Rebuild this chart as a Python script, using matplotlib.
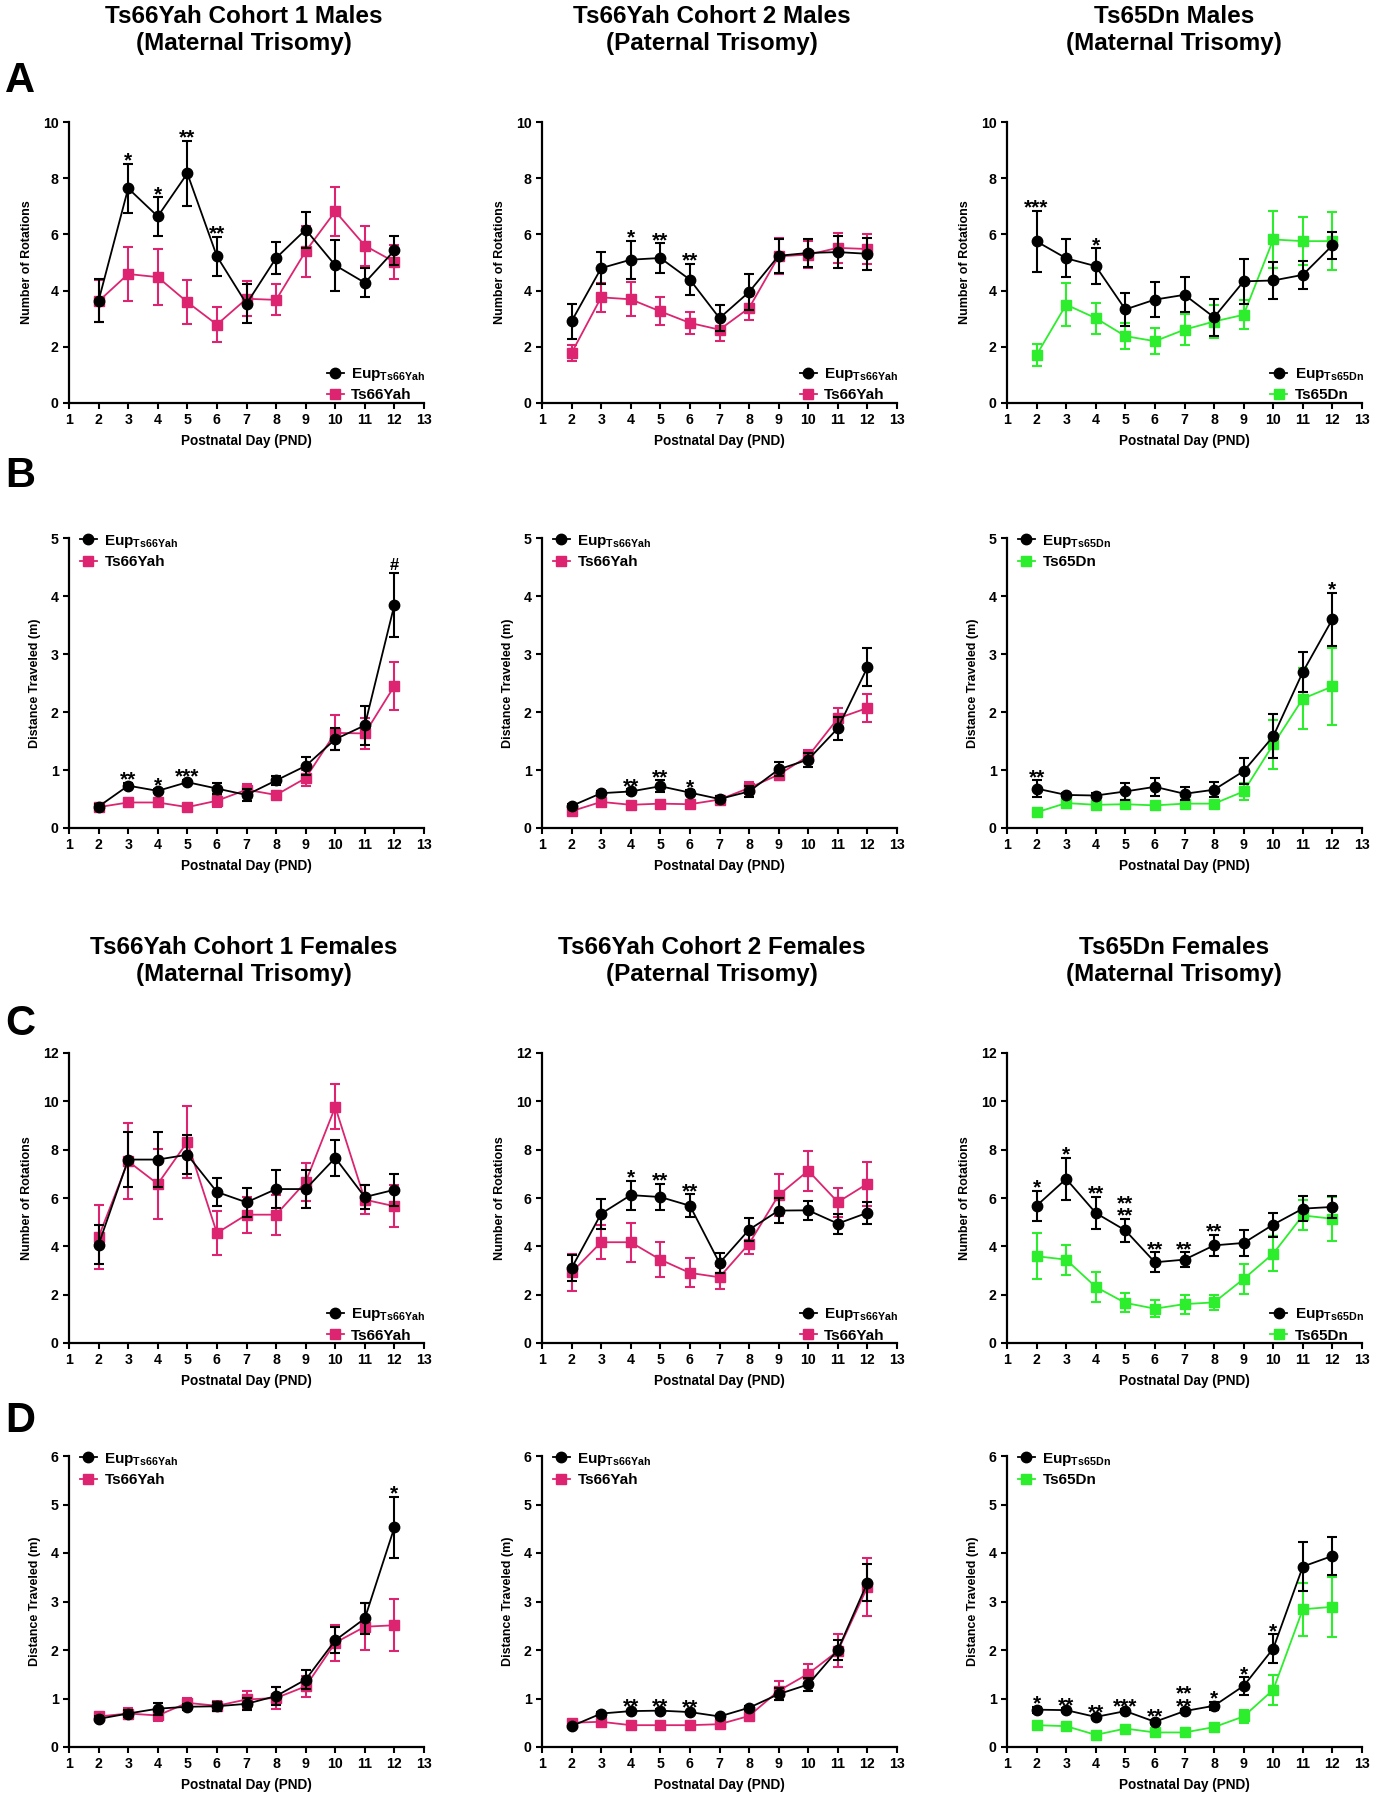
import matplotlib
matplotlib.use('Agg')
import matplotlib.pyplot as plt
from matplotlib.lines import Line2D

PINK = '#DC2470'
GREEN = '#2CEE2C'

plt.rcParams.update({
    'font.family': ['Liberation Sans', 'DejaVu Sans'],
    'font.weight': 'bold',
    'mathtext.fontset': 'custom',
    'mathtext.rm': 'Liberation Sans',
    'mathtext.bf': 'Liberation Sans:bold',
    'axes.linewidth': 1.6,
    'xtick.major.width': 1.5,
    'ytick.major.width': 1.5,
    'xtick.major.size': 4,
    'ytick.major.size': 4,
    'xtick.labelsize': 10.2,
    'ytick.labelsize': 10.2,
})

days = list(range(2, 13))

# ---- Row A: number of rotations, males ----
a1_eup = [3.64, 7.64, 6.64, 8.17, 5.22, 3.53, 5.16, 6.17, 4.90, 4.28, 5.43]
a1_eup_err = [0.76, 0.88, 0.69, 1.17, 0.69, 0.70, 0.57, 0.64, 0.90, 0.52, 0.51]
a1_ts = [3.62, 4.59, 4.48, 3.59, 2.79, 3.71, 3.67, 5.40, 6.82, 5.60, 5.02]
a1_ts_err = [0.75, 0.97, 1.00, 0.78, 0.63, 0.62, 0.55, 0.90, 0.88, 0.71, 0.60]
a1_stars = {3: '*', 4: '*', 5: '**', 6: '**'}

a2_eup = [2.91, 4.80, 5.10, 5.16, 4.39, 3.02, 3.95, 5.24, 5.34, 5.37, 5.31]
a2_eup_err = [0.63, 0.56, 0.67, 0.52, 0.56, 0.45, 0.64, 0.60, 0.50, 0.58, 0.56]
a2_ts = [1.78, 3.76, 3.69, 3.26, 2.85, 2.61, 3.38, 5.22, 5.28, 5.52, 5.48]
a2_ts_err = [0.30, 0.51, 0.60, 0.50, 0.38, 0.40, 0.42, 0.64, 0.49, 0.53, 0.55]
a2_stars = {4: '*', 5: '**', 6: '**'}

a3_eup = [5.75, 5.15, 4.87, 3.33, 3.68, 3.85, 3.05, 4.33, 4.36, 4.56, 5.61]
a3_eup_err = [1.09, 0.67, 0.64, 0.58, 0.61, 0.62, 0.65, 0.80, 0.65, 0.50, 0.48]
a3_ts = [1.71, 3.50, 3.02, 2.38, 2.20, 2.61, 2.90, 3.14, 5.82, 5.76, 5.76]
a3_ts_err = [0.40, 0.76, 0.55, 0.47, 0.47, 0.55, 0.57, 0.51, 1.03, 0.85, 1.03]
a3_stars = {2: '***', 4: '*'}

# ---- Row B: distance traveled, males ----
b1_eup = [0.37, 0.73, 0.64, 0.79, 0.68, 0.57, 0.82, 1.07, 1.53, 1.77, 3.85]
b1_eup_err = [0.04, 0.05, 0.04, 0.04, 0.10, 0.10, 0.08, 0.16, 0.19, 0.34, 0.55]
b1_ts = [0.36, 0.44, 0.44, 0.36, 0.47, 0.66, 0.57, 0.86, 1.64, 1.63, 2.45]
b1_ts_err = [0.03, 0.05, 0.06, 0.03, 0.10, 0.10, 0.07, 0.14, 0.30, 0.27, 0.41]
b1_stars = {3: '**', 4: '*', 5: '***', 12: '#'}

b2_eup = [0.38, 0.60, 0.63, 0.72, 0.61, 0.50, 0.63, 1.01, 1.18, 1.72, 2.77]
b2_eup_err = [0.04, 0.04, 0.04, 0.10, 0.04, 0.05, 0.10, 0.12, 0.12, 0.20, 0.33]
b2_ts = [0.29, 0.45, 0.40, 0.42, 0.41, 0.49, 0.69, 0.92, 1.24, 1.89, 2.07]
b2_ts_err = [0.03, 0.04, 0.03, 0.03, 0.03, 0.04, 0.11, 0.10, 0.10, 0.18, 0.24]
b2_stars = {4: '**', 5: '**', 6: '*'}

b3_eup = [0.68, 0.57, 0.56, 0.63, 0.71, 0.59, 0.66, 0.98, 1.58, 2.69, 3.60]
b3_eup_err = [0.14, 0.04, 0.04, 0.14, 0.16, 0.11, 0.13, 0.23, 0.38, 0.35, 0.46]
b3_ts = [0.27, 0.43, 0.40, 0.41, 0.39, 0.42, 0.42, 0.63, 1.44, 2.23, 2.44]
b3_ts_err = [0.03, 0.04, 0.03, 0.04, 0.03, 0.04, 0.05, 0.15, 0.42, 0.53, 0.66]
b3_stars = {2: '**', 12: '*'}

# ---- Row C: number of rotations, females ----
c1_eup = [4.07, 7.59, 7.59, 7.79, 6.25, 5.82, 6.37, 6.37, 7.66, 6.04, 6.34]
c1_eup_err = [0.80, 1.13, 1.14, 0.80, 0.58, 0.60, 0.80, 0.80, 0.74, 0.48, 0.66]
c1_ts = [4.39, 7.52, 6.58, 8.32, 4.55, 5.31, 5.31, 6.66, 9.77, 5.93, 5.66]
c1_ts_err = [1.31, 1.58, 1.45, 1.50, 0.90, 0.74, 0.83, 0.79, 0.93, 0.60, 0.87]
c1_stars = {}

c2_eup = [3.10, 5.35, 6.12, 6.04, 5.68, 3.31, 4.69, 5.48, 5.49, 4.94, 5.39]
c2_eup_err = [0.55, 0.62, 0.60, 0.55, 0.48, 0.41, 0.48, 0.50, 0.40, 0.41, 0.45]
c2_ts = [2.92, 4.17, 4.17, 3.45, 2.90, 2.72, 4.11, 6.12, 7.13, 5.83, 6.59]
c2_ts_err = [0.78, 0.70, 0.80, 0.71, 0.60, 0.48, 0.44, 0.87, 0.83, 0.60, 0.92]
c2_stars = {4: '*', 5: '**', 6: '**'}

c3_eup = [5.68, 6.79, 5.38, 4.66, 3.34, 3.45, 4.04, 4.14, 4.90, 5.56, 5.63]
c3_eup_err = [0.63, 0.88, 0.68, 0.48, 0.41, 0.30, 0.44, 0.55, 0.50, 0.51, 0.47]
c3_ts = [3.59, 3.45, 2.32, 1.66, 1.42, 1.61, 1.68, 2.65, 3.70, 5.28, 5.14]
c3_ts_err = [0.96, 0.62, 0.62, 0.39, 0.35, 0.39, 0.32, 0.63, 0.71, 0.62, 0.90]
c3_stars = {2: '*', 3: '*', 4: '**', 5: '**\n**', 6: '**', 7: '**', 8: '**'}

# ---- Row D: distance traveled, females ----
d1_eup = [0.58, 0.69, 0.79, 0.83, 0.84, 0.89, 1.05, 1.39, 2.20, 2.65, 4.53]
d1_eup_err = [0.05, 0.08, 0.12, 0.06, 0.09, 0.13, 0.18, 0.19, 0.27, 0.32, 0.63]
d1_ts = [0.63, 0.69, 0.65, 0.91, 0.85, 0.98, 1.01, 1.25, 2.15, 2.48, 2.51]
d1_ts_err = [0.07, 0.12, 0.12, 0.11, 0.09, 0.18, 0.23, 0.21, 0.37, 0.49, 0.54]
d1_stars = {12: '*'}

d2_eup = [0.43, 0.69, 0.74, 0.75, 0.72, 0.63, 0.81, 1.09, 1.29, 2.00, 3.39]
d2_eup_err = [0.03, 0.03, 0.03, 0.03, 0.03, 0.04, 0.04, 0.13, 0.14, 0.20, 0.38]
d2_ts = [0.50, 0.52, 0.45, 0.45, 0.45, 0.47, 0.64, 1.16, 1.51, 1.98, 3.30]
d2_ts_err = [0.04, 0.04, 0.03, 0.03, 0.03, 0.04, 0.05, 0.20, 0.20, 0.34, 0.60]
d2_stars = {4: '**', 5: '**', 6: '**'}

d3_eup = [0.77, 0.76, 0.62, 0.74, 0.52, 0.74, 0.85, 1.26, 2.03, 3.72, 3.94]
d3_eup_err = [0.06, 0.04, 0.04, 0.04, 0.04, 0.04, 0.08, 0.18, 0.29, 0.50, 0.39]
d3_ts = [0.45, 0.43, 0.25, 0.38, 0.30, 0.30, 0.41, 0.63, 1.18, 2.84, 2.89]
d3_ts_err = [0.06, 0.04, 0.04, 0.03, 0.03, 0.03, 0.04, 0.14, 0.31, 0.55, 0.62]
d3_stars = {2: '*', 3: '**', 4: '**', 5: '***', 6: '**', 7: '**\n**', 8: '*', 9: '*', 10: '*'}

col_titles_males = ['Ts66Yah Cohort 1 Males\n(Maternal Trisomy)',
                    'Ts66Yah Cohort 2 Males\n(Paternal Trisomy)',
                    'Ts65Dn Males\n(Maternal Trisomy)']
col_titles_females = ['Ts66Yah Cohort 1 Females\n(Maternal Trisomy)',
                      'Ts66Yah Cohort 2 Females\n(Paternal Trisomy)',
                      'Ts65Dn Females\n(Maternal Trisomy)']

W, H = 1375, 1800
fig = plt.figure(figsize=(W / 100, H / 100), dpi=100)

col_left = [69, 542, 1007]
col_width = 355
row_span = {'A': (122, 403), 'B': (538, 828), 'C': (1053, 1343), 'D': (1456, 1747)}


def make_ax(row, col):
    top, bot = row_span[row]
    return fig.add_axes([col_left[col] / W, 1 - bot / H, col_width / W, (bot - top) / H])


def draw_panel(ax, eup, eup_err, ts, ts_err, color, strain, stars, ymax, ylabel, legend_top):
    ax.errorbar(days, ts, yerr=ts_err, color=color, marker='s', markersize=6.5,
                linewidth=1.3, elinewidth=1.5, capsize=3.5, capthick=1.5,
                clip_on=False, zorder=3)
    ax.errorbar(days, eup, yerr=eup_err, color='black', marker='o', markersize=7.5,
                linewidth=1.3, elinewidth=1.5, capsize=3.5, capthick=1.5,
                clip_on=False, zorder=4)
    # significance marks sit just above the higher error bar
    for d, txt in stars.items():
        i = days.index(d)
        top = max(eup[i] + eup_err[i], ts[i] + ts_err[i])
        if txt == '#':
            ax.annotate(txt, (d, top), xytext=(0, 2), textcoords='offset points',
                        ha='center', va='baseline', fontsize=12, fontweight='bold')
        else:
            ax.annotate(txt, (d, top), xytext=(0, -5), textcoords='offset points',
                        ha='center', va='bottom', fontsize=15, fontweight='bold',
                        linespacing=0.55)
    ax.set_xlim(1, 13)
    ax.set_xticks(range(1, 14))
    ax.set_ylim(0, ymax)
    step = 2 if ymax >= 10 else 1
    ax.set_yticks(range(0, ymax + 1, step))
    for lab in ax.get_xticklabels() + ax.get_yticklabels():
        lab.set_fontweight('bold')
    ax.spines['top'].set_visible(False)
    ax.spines['right'].set_visible(False)
    ax.set_xlabel('Postnatal Day (PND)', fontsize=9.8, fontweight='bold', labelpad=5)
    ax.set_ylabel(ylabel, fontsize=9, fontweight='bold', labelpad=7)
    handles = [Line2D([], [], color='black', marker='o', markersize=7.5, linewidth=1.3),
               Line2D([], [], color=color, marker='s', markersize=6.5, linewidth=1.3)]
    labels = [r'Eup$_{\mathbf{%s}}$' % strain, strain]
    if legend_top:
        ax.legend(handles, labels, loc='upper left', bbox_to_anchor=(0.005, 1.05), frameon=False,
                  prop={'weight': 'bold', 'size': 11}, handlelength=1.1,
                  handletextpad=0.5, labelspacing=0.35, borderaxespad=0.2)
    else:
        ax.legend(handles, labels, loc='lower right', bbox_to_anchor=(1.03, -0.03), frameon=False,
                  prop={'weight': 'bold', 'size': 11}, handlelength=1.1,
                  handletextpad=0.5, labelspacing=0.35, borderaxespad=0.2)


panels = [
    ('A', 0, a1_eup, a1_eup_err, a1_ts, a1_ts_err, PINK, 'Ts66Yah', a1_stars, 10, 'Number of Rotations', False),
    ('A', 1, a2_eup, a2_eup_err, a2_ts, a2_ts_err, PINK, 'Ts66Yah', a2_stars, 10, 'Number of Rotations', False),
    ('A', 2, a3_eup, a3_eup_err, a3_ts, a3_ts_err, GREEN, 'Ts65Dn', a3_stars, 10, 'Number of Rotations', False),
    ('B', 0, b1_eup, b1_eup_err, b1_ts, b1_ts_err, PINK, 'Ts66Yah', b1_stars, 5, 'Distance Traveled (m)', True),
    ('B', 1, b2_eup, b2_eup_err, b2_ts, b2_ts_err, PINK, 'Ts66Yah', b2_stars, 5, 'Distance Traveled (m)', True),
    ('B', 2, b3_eup, b3_eup_err, b3_ts, b3_ts_err, GREEN, 'Ts65Dn', b3_stars, 5, 'Distance Traveled (m)', True),
    ('C', 0, c1_eup, c1_eup_err, c1_ts, c1_ts_err, PINK, 'Ts66Yah', c1_stars, 12, 'Number of Rotations', False),
    ('C', 1, c2_eup, c2_eup_err, c2_ts, c2_ts_err, PINK, 'Ts66Yah', c2_stars, 12, 'Number of Rotations', False),
    ('C', 2, c3_eup, c3_eup_err, c3_ts, c3_ts_err, GREEN, 'Ts65Dn', c3_stars, 12, 'Number of Rotations', False),
    ('D', 0, d1_eup, d1_eup_err, d1_ts, d1_ts_err, PINK, 'Ts66Yah', d1_stars, 6, 'Distance Traveled (m)', True),
    ('D', 1, d2_eup, d2_eup_err, d2_ts, d2_ts_err, PINK, 'Ts66Yah', d2_stars, 6, 'Distance Traveled (m)', True),
    ('D', 2, d3_eup, d3_eup_err, d3_ts, d3_ts_err, GREEN, 'Ts65Dn', d3_stars, 6, 'Distance Traveled (m)', True),
]

for row, col, eup, eup_err, ts, ts_err, color, strain, stars, ymax, ylabel, legend_top in panels:
    ax = make_ax(row, col)
    draw_panel(ax, eup, eup_err, ts, ts_err, color, strain, stars, ymax, ylabel, legend_top)

# column titles
title_x = [244, 712, 1174]
for x, t in zip(title_x, col_titles_males):
    fig.text(x / W, 1 - 30 / H, t, ha='center', va='center', fontsize=17.5,
             fontweight='bold', linespacing=1.2)
for x, t in zip(title_x, col_titles_females):
    fig.text(x / W, 1 - 961 / H, t, ha='center', va='center', fontsize=17.5,
             fontweight='bold', linespacing=1.2)

# panel letters
for letter, base in [('A', 92), ('B', 487), ('C', 1035), ('D', 1432)]:
    fig.text(5 / W, 1 - base / H, letter, ha='left', va='baseline', fontsize=30,
             fontweight='bold')

fig.savefig('out.png', dpi=100)
